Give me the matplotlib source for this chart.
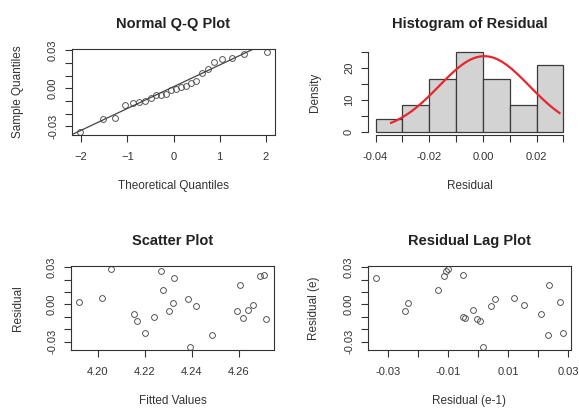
import numpy as np
import matplotlib
matplotlib.use("Agg")
import matplotlib.pyplot as plt
from statistics import NormalDist

plt.rcParams['font.family'] = ['Liberation Sans', 'DejaVu Sans']

# --- DATA ---
# residuals in time order, fitted values in the same order
residuals = [-0.0051, 0.0238, 0.0154, -0.0002, -0.0115, 0.0232, -0.0245, -0.0050,
             -0.0101, 0.0285, -0.0232, 0.0008, -0.0133, 0.0120, 0.0055, 0.0042,
             -0.0016, -0.0042, -0.0107, 0.0272, 0.0016, -0.0342, 0.0211, -0.0076]
fitted = [4.2302, 4.2709, 4.2607, 4.2660, 4.2718, 4.2692, 4.2487, 4.2593,
          4.2241, 4.2057, 4.2203, 4.2319, 4.2167, 4.2279, 4.2017, 4.2386,
          4.2417, 4.2641, 4.2618, 4.2267, 4.1918, 4.2394, 4.2323, 4.2153]
hist_breaks = [-0.04, -0.03, -0.02, -0.01, 0.0, 0.01, 0.02, 0.03]

res_ticks = [-0.03, -0.02, -0.01, 0.0, 0.01, 0.02, 0.03]
res_ticklabels = ['-0.03', '', '', '0.00', '', '', '0.03']
qq_xticks = [-2, -1, 0, 1, 2]
hist_xticklabels = ['-0.04', '', '-0.02', '', '0.00', '', '0.02', '']
hist_yticks = [0, 5, 10, 15, 20, 25]
hist_yticklabels = ['0', '', '10', '', '20', '']
fit_xticks = [4.20, 4.22, 4.24, 4.26]
lag_xticklabels = ['-0.03', '', '-0.01', '', '0.01', '', '0.03']

res = np.array(residuals)
fit = np.array(fitted)
n = len(res)

# --- STYLE ---
FG = '#333333'
PT_COL = '#555555'
W, H = 579, 408


def r_range(v):
    lo, hi = np.min(v), np.max(v)
    d = (hi - lo) * 0.04
    return lo - d, hi + d


def style_axes(ax, box=True):
    for s in ax.spines.values():
        s.set_color(FG)
        s.set_linewidth(0.8)
        s.set_visible(box)
    ax.tick_params(colors=FG, length=5, width=0.8, labelsize=8, pad=7)
    ax.tick_params(axis='y', pad=5)
    for lab in ax.get_yticklabels():
        lab.set_rotation(90)
        lab.set_va('center')


def add_labels(ax, title, xlabel, ylabel):
    ax.set_title(title, fontsize=10.5, fontweight='bold', pad=15, color='#222222')
    ax.set_xlabel(xlabel, fontsize=8.5, labelpad=13, color=FG)
    ax.set_ylabel(ylabel, fontsize=8.5, labelpad=17, color=FG)


fig = plt.figure(figsize=(W / 100, H / 100), dpi=100)
fig.patch.set_facecolor('white')

# axes boxes in pixels: left, top, right, bottom
boxes = {
    'qq': (72, 49, 275, 135),
    'hist': (368, 49, 571, 135),
    'scat': (71, 266, 274, 350),
    'lag': (368, 266, 571, 350),
}
axes = {}
for k, (l, t, r, b) in boxes.items():
    axes[k] = fig.add_axes([l / W, 1 - b / H, (r - l) / W, (b - t) / H])

# --- 1. Normal Q-Q plot ---
ax = axes['qq']
p = (np.arange(1, n + 1) - 0.5) / n
theo = np.array([NormalDist().inv_cdf(v) for v in p])
samp = np.sort(res)
ax.plot(theo, samp, 'o', ms=4.2, mfc='none', mec=PT_COL, mew=0.7)
# qqline through the quartiles
yq = np.quantile(res, [0.25, 0.75])
xq = np.array([NormalDist().inv_cdf(0.25), NormalDist().inv_cdf(0.75)])
slope = (yq[1] - yq[0]) / (xq[1] - xq[0])
icpt = yq[0] - slope * xq[0]
xl = r_range(theo)
yl = r_range(samp)
xx = np.array(xl)
ax.plot(xx, icpt + slope * xx, color='#444444', lw=0.9)
ax.set_xlim(xl)
ax.set_ylim(yl)
ax.set_xticks(qq_xticks)
ax.set_yticks(res_ticks)
ax.set_yticklabels(res_ticklabels)
style_axes(ax)
add_labels(ax, 'Normal Q-Q Plot', 'Theoretical Quantiles', 'Sample Quantiles')

# --- 2. Histogram with normal curve ---
ax = axes['hist']
ax.hist(res, bins=hist_breaks, density=True, color='#d3d3d3',
        edgecolor='#3a3a3a', linewidth=0.9)
xs = np.linspace(res.min(), res.max(), 100)
mu, sd = res.mean(), res.std(ddof=1)
ax.plot(xs, np.exp(-0.5 * ((xs - mu) / sd) ** 2) / (sd * np.sqrt(2 * np.pi)),
        color='#e8262e', lw=1.6)
ax.set_xlim(r_range(hist_breaks))
ax.set_ylim(-1.0, 26.0)
ax.set_xticks(hist_breaks)
ax.set_xticklabels(hist_xticklabels)
ax.set_yticks(hist_yticks)
ax.set_yticklabels(hist_yticklabels)
style_axes(ax, box=False)
ax.spines['left'].set_visible(True)
ax.spines['bottom'].set_visible(True)
ax.spines['left'].set_bounds(0, 25)
ax.spines['bottom'].set_bounds(hist_breaks[0], hist_breaks[-1])
add_labels(ax, 'Histogram of Residual', 'Residual', 'Density')

# --- 3. Residual vs fitted ---
ax = axes['scat']
ax.plot(fit, res, 'o', ms=4.2, mfc='none', mec=PT_COL, mew=0.7)
ax.set_xlim(r_range(fit))
ax.set_ylim(r_range(res))
ax.set_xticks(fit_xticks)
ax.set_xticklabels([f'{v:.2f}' for v in fit_xticks])
ax.set_yticks(res_ticks)
ax.set_yticklabels(res_ticklabels)
style_axes(ax)
add_labels(ax, 'Scatter Plot', 'Fitted Values', 'Residual')

# --- 4. Residual lag plot ---
ax = axes['lag']
lag_x, lag_y = res[:-1], res[1:]
ax.plot(lag_x, lag_y, 'o', ms=4.2, mfc='none', mec=PT_COL, mew=0.7)
ax.set_xlim(r_range(lag_x))
ax.set_ylim(r_range(lag_y))
ax.set_xticks(res_ticks)
ax.set_xticklabels(lag_xticklabels)
ax.set_yticks(res_ticks)
ax.set_yticklabels(res_ticklabels)
style_axes(ax)
add_labels(ax, 'Residual Lag Plot', 'Residual (e-1)', 'Residual (e)')

fig.savefig('out.png', dpi=100, facecolor='white')
